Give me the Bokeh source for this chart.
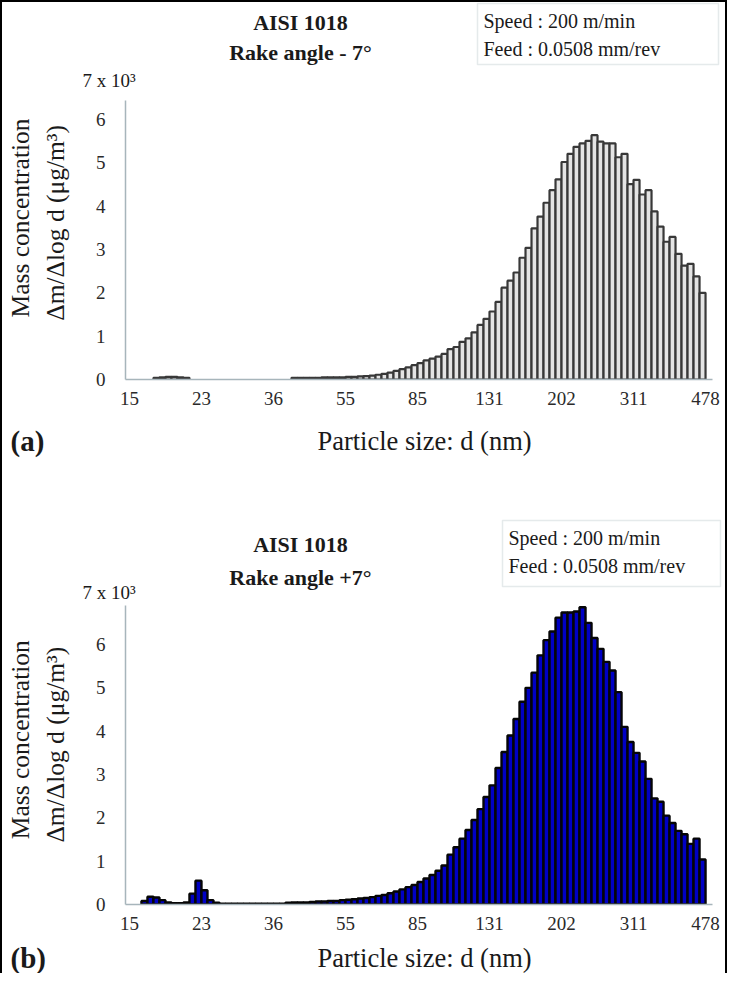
import math
from bokeh.plotting import figure
from bokeh.models import Range1d, FixedTicker, Label, BoxAnnotation, ColumnDataSource
from bokeh.layouts import column, row
from bokeh.embed import file_html
from bokeh.resources import INLINE

# ---------------- data ----------------
tick_labels = ["15", "23", "36", "55", "85", "131", "202", "311", "478"]

# mass concentration (x 10^3 ug/m3) per size channel (64 channels/decade), rake angle -7
conc_a = [0, 0, 0, 0,
          0.04, 0.05, 0.06, 0.06, 0.05, 0.04,
          0, 0, 0, 0, 0, 0, 0, 0, 0, 0, 0, 0, 0, 0, 0, 0, 0,
          0.04, 0.04, 0.04, 0.04, 0.04, 0.05, 0.05, 0.05, 0.05,
          0.06, 0.06, 0.07, 0.08, 0.09, 0.11, 0.13, 0.16, 0.20, 0.24, 0.28, 0.33, 0.38,
          0.44, 0.48, 0.53, 0.59, 0.70, 0.75, 0.87, 0.95, 1.09, 1.26,
          1.40, 1.57, 1.79, 2.12, 2.28, 2.47, 2.81, 3.04, 3.49, 3.76,
          4.08, 4.37, 4.62, 5.02, 5.21, 5.37, 5.45, 5.51, 5.64, 5.49,
          5.45, 5.45, 5.13, 5.21, 4.51, 4.61, 4.27, 4.37, 3.88, 3.53,
          3.18, 3.29, 2.90, 2.63, 2.67, 2.38, 2.00]

# rake angle +7
conc_b = [0, 0,
          0.08, 0.18, 0.16, 0.10, 0.05,
          0.03, 0.03, 0.05,
          0.25, 0.55, 0.33, 0.10, 0.04,
          0.02, 0.02, 0.02, 0.02, 0.02, 0.02, 0.02, 0.02, 0.02, 0.02, 0.02,
          0.04, 0.05, 0.05, 0.05, 0.06,
          0.07, 0.07, 0.08, 0.08,
          0.10, 0.11, 0.12, 0.14, 0.15, 0.17,
          0.20, 0.22, 0.26, 0.30,
          0.35, 0.40, 0.45, 0.52, 0.60, 0.68, 0.78, 0.90,
          1.15, 1.32, 1.52, 1.72, 1.95, 2.20, 2.48, 2.75,
          3.15, 3.52, 3.90, 4.28, 4.68, 5.00, 5.35, 5.75, 6.10, 6.30,
          6.62, 6.74, 6.74, 6.76, 6.86, 6.50, 6.15, 5.90, 5.60, 5.40,
          4.90, 4.10, 3.75, 3.50, 3.30, 2.90, 2.45, 2.37, 2.05, 1.88,
          1.70, 1.62, 1.40, 1.52, 1.04]

FONT = "Liberation Serif"
W = 723            # inner width (page x 10..733)
LEFT_W = 90        # y-title strip width (page x 10..100)
X_START, X_END = -0.66, 97.16
AXIS_COLOR = "#a7b5bb"
TXT = "#1a1a1a"


def text_fig(w, h):
    f = figure(width=w, height=h, x_range=Range1d(0, w), y_range=Range1d(h, 0),
               output_backend="svg", toolbar_location=None, min_border=0,
               x_axis_location=None, y_axis_location=None)
    f.outline_line_color = None
    f.grid.visible = False
    f.background_fill_color = "white"
    f.border_fill_color = "white"
    return f


def put(f, x, y, text, size, bold=False, align="center", angle=0.0):
    f.add_layout(Label(x=x, y=y, text=text, text_font=FONT, text_font_size=size,
                       text_align=align, text_baseline="middle",
                       text_font_style="bold" if bold else "normal",
                       text_color=TXT, angle=angle))


def chart(vals, height, y_end, top_b, bot_b, fill, line, lw):
    p = figure(width=W - LEFT_W, height=height, x_range=Range1d(X_START, X_END),
               y_range=Range1d(0, y_end), output_backend="svg",
               toolbar_location=None, min_border_left=29, min_border_right=13,
               min_border_top=top_b, min_border_bottom=bot_b)
    p.outline_line_color = None
    p.grid.visible = False
    p.background_fill_color = "white"
    p.border_fill_color = "white"
    ch = [i for i, v in enumerate(vals) if v > 0]
    src = ColumnDataSource(dict(x=[c + 0.5 for c in ch], top=[vals[c] for c in ch]))
    p.vbar(x="x", top="top", bottom=0, width=1.0, source=src,
           fill_color=fill, line_color=line, line_width=lw)
    ticks = [12 * k for k in range(len(tick_labels))]
    p.xaxis.ticker = FixedTicker(ticks=ticks)
    p.xaxis.major_label_overrides = {t: s for t, s in zip(ticks, tick_labels)}
    p.yaxis.ticker = FixedTicker(ticks=[0, 1, 2, 3, 4, 5, 6])
    for ax in (p.xaxis[0], p.yaxis[0]):
        ax.axis_line_color = AXIS_COLOR
        ax.axis_line_width = 1.5
        ax.major_tick_in = 0
        ax.major_tick_out = 0
        ax.minor_tick_line_color = None
        ax.major_label_text_font = FONT
        ax.major_label_text_font_size = "19px"
        ax.major_label_text_color = "#2a2a2a"
    p.xaxis.major_label_standoff = 12
    p.yaxis.major_label_standoff = 20
    return p


def header(h, t1, t2, t7, title2, box):
    f = text_fig(W, h)
    put(f, 298, t1, "AISI 1018", "22px", bold=True)
    put(f, 298, t2, title2, "22px", bold=True)
    put(f, 80, t7, "7 x 10\u00b3", "19px", align="left")
    l, t, r, b = box
    f.add_layout(BoxAnnotation(left=l, right=r, top=t, bottom=b, fill_alpha=0,
                               line_color="#aab8be", line_width=1.5))
    put(f, l + 6, t + 17, "Speed : 200 m/min", "20px", align="left")
    put(f, l + 6, t + 45, "Feed : 0.0508 mm/rev", "20px", align="left")
    return f


def ytitle(h, cy):
    f = text_fig(LEFT_W, h)
    put(f, 18, cy, "Mass concentration", "25.5px", angle=math.pi / 2)
    put(f, 53, cy + 2, "\u0394m/\u0394log d  (\u03bcg/m\u00b3)", "25.5px", angle=math.pi / 2)
    return f


def footer(h, cy, tag):
    f = text_fig(W, h)
    put(f, 422, cy, "Particle size: d (nm)", "26.5px")
    put(f, 8, cy, tag, "29px", bold=True, align="left")
    return f


# ---- panel (a): page y 10..500 ----
head_a = header(94, 20, 50, 78, "Rake angle - 7\u00b0", (475, 1, 716, 62))
chart_a = chart(conc_a, 316, 6.44, 4, 33, "#e4e4e4", "#383838", 2.2)
side_a = ytitle(316, 133)
foot_a = footer(80, 28, "(a)")

# ---- panel (b): page y 500..981 ----
head_b = header(113, 52, 85, 100, "Rake angle +7\u00b0", (500, 28, 718, 94))
chart_b = chart(conc_b, 332, 6.9, 0, 33, "#0000c4", "#050505", 2.4)
side_b = ytitle(332, 149)
foot_b = footer(36, 20, "(b)")

layout = column(head_a, row(side_a, chart_a), foot_a,
                head_b, row(side_b, chart_b), foot_b,
                styles={"border-left": "2px solid black",
                        "border-right": "2px solid black",
                        "border-top": "2px solid black"})

open("out.html", "w").write(file_html(layout, INLINE))
